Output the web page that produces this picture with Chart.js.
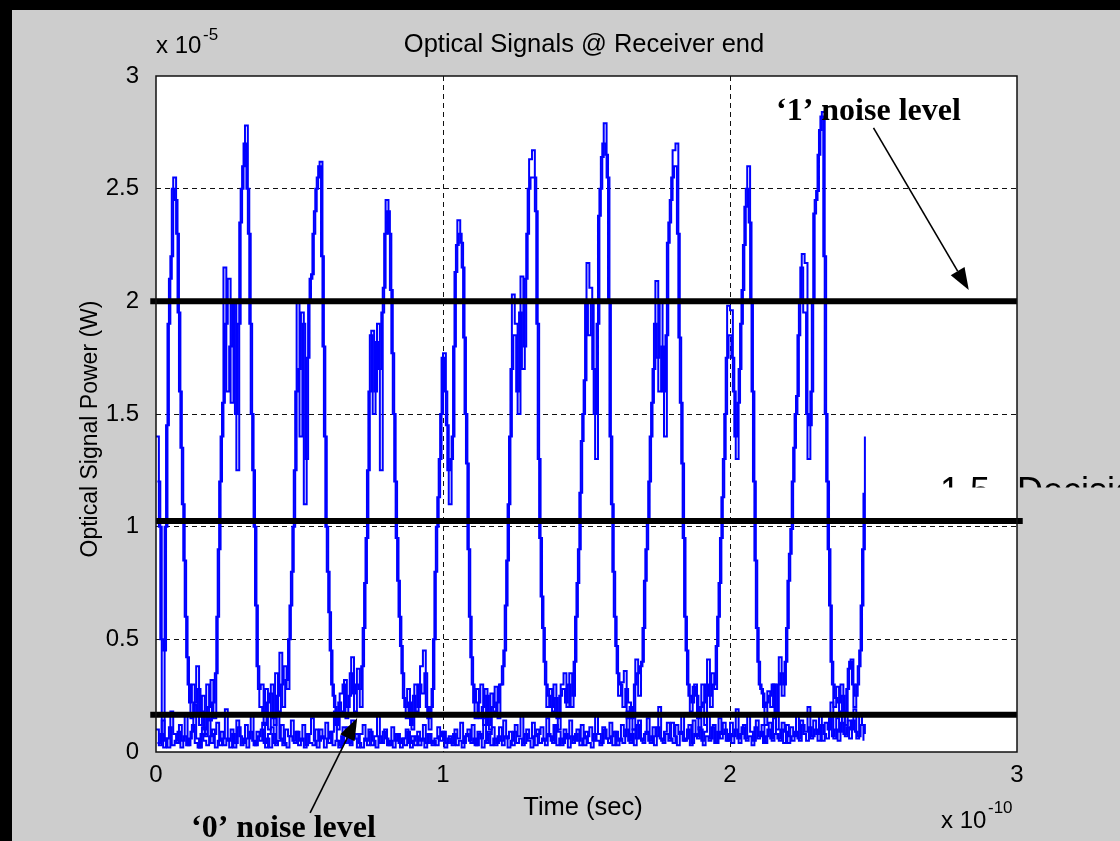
<!DOCTYPE html>
<html lang="en">
<head>
  <meta charset="UTF-8">
  <title>Optical Signals @ Receiver end</title>
  <style>
    body { margin: 0; background: #cdcdcd; }
    #wrap { width: 1120px; height: 841px; }
  </style>
</head>
<body>
  <div id="wrap"><canvas id="signalChart"></canvas></div>

  <script src="https://cdn.jsdelivr.net/npm/chart.js"></script>
  <script>
    // time axis in units of 1e-10 s, power in units of 1e-5 W
    const sampleStep = 0.01;
    const xTicks = [0, 1, 2, 3];
    const yTicks = [0, 0.5, 1, 1.5, 2, 2.5, 3];

    // received pulse train, first sweep
    const pulseTrace = [
      1.4, 1.0, 0.05, 1.0, 1.9, 2.2, 2.55, 2.3, 1.6, 1.1,
      0.6, 0.3, 0.15, 0.22, 0.38, 0.12, 0.25, 0.08, 0.2, 0.32,
      0.15, 0.6, 1.2, 1.55, 1.9, 2.1, 1.55, 2.0, 1.25, 2.35,
      2.6, 2.78, 2.3, 1.5, 1.0, 0.38, 0.2, 0.18, 0.28, 0.1,
      0.3, 0.12, 0.25, 0.44, 0.2, 0.32, 0.5, 0.8, 1.25, 2.0,
      1.4, 1.9, 1.3, 2.0, 2.12, 2.4, 2.55, 2.62, 1.8, 1.0,
      0.62, 0.3, 0.2, 0.1, 0.26, 0.3, 0.15, 0.25, 0.42, 0.18,
      0.37, 0.2, 0.55, 0.95, 1.6, 1.87, 1.6, 1.9, 1.25, 2.06,
      2.45, 2.3, 1.77, 1.2, 0.76, 0.47, 0.24, 0.15, 0.22, 0.1,
      0.3, 0.2, 0.38, 0.45, 0.2, 0.1, 0.28, 0.8, 1.13, 1.5,
      1.77, 1.45, 1.1, 1.4, 2.13, 2.36, 2.26, 1.84, 1.28, 0.6,
      0.3, 0.15, 0.22, 0.3, 0.12, 0.25, 0.1, 0.2, 0.29, 0.15,
      0.3, 0.45, 0.85, 1.4, 2.03, 1.9, 1.5, 2.11, 1.8, 2.3,
      2.63, 2.67, 2.4, 1.3, 0.69, 0.4, 0.2, 0.28, 0.18, 0.24,
      0.1, 0.3, 0.35, 0.2, 0.35, 0.25, 0.6, 0.9, 1.38, 1.65,
      2.17, 2.06, 1.7, 1.3, 2.38, 2.64, 2.79, 2.55, 1.4, 0.8,
      0.47, 0.25, 0.31, 0.36, 0.15, 0.2, 0.1, 0.41, 0.25, 0.4,
      0.76, 1.02, 1.4, 1.7, 2.09, 1.6, 1.8, 1.4, 2.26, 2.45,
      2.67, 2.7, 1.84, 1.28, 0.6, 0.3, 0.18, 0.29, 0.25, 0.1,
      0.3, 0.12, 0.41, 0.2, 0.3, 0.47, 0.75, 1.13, 1.5, 1.98,
      1.96, 1.6, 1.3, 1.7, 2.05, 2.42, 2.6, 2.0, 1.2, 0.55,
      0.3, 0.26, 0.12, 0.27, 0.2, 0.3, 0.1, 0.42, 0.25, 0.4,
      0.76, 0.99, 1.35, 1.58, 2.0, 2.21, 2.17, 1.3, 1.6, 2.39,
      2.49, 2.76, 2.84, 1.5, 0.9, 0.4, 0.2, 0.29, 0.18, 0.25,
      0.12, 0.37, 0.41, 0.2, 0.3, 0.45, 0.9, 1.4
    ];

    // second sweep, sampled half a step later
    const pulseTrace2 = [
      1.2, 0.5, 0.45, 1.45, 2.1, 2.5, 2.45, 1.95, 1.35, 0.85,
      0.42, 0.22, 0.3, 0.16, 0.28, 0.18, 0.1, 0.3, 0.14, 0.22,
      0.35, 0.9, 1.4, 2.15, 1.6, 1.8, 2.0, 1.5, 1.9, 2.5,
      2.7, 2.5, 1.9, 1.25, 0.65, 0.28, 0.3, 0.12, 0.22, 0.26,
      0.15, 0.35, 0.18, 0.3, 0.38, 0.28, 0.65, 1.0, 1.6, 1.7,
      1.95, 1.1, 1.75, 2.1, 2.3, 2.5, 2.6, 2.2, 1.4, 0.8,
      0.45, 0.25, 0.12, 0.22, 0.18, 0.32, 0.2, 0.35, 0.26, 0.3,
      0.28, 0.38, 0.75, 1.25, 1.85, 1.5, 1.82, 1.7, 1.95, 2.3,
      2.4, 2.05, 1.5, 0.95, 0.6, 0.35, 0.2, 0.28, 0.12, 0.25,
      0.18, 0.3, 0.26, 0.35, 0.15, 0.2, 0.5, 1.0, 1.3, 1.75,
      1.6, 1.25, 1.3, 1.8, 2.25, 2.3, 2.15, 1.5, 0.9, 0.42,
      0.22, 0.28, 0.15, 0.2, 0.28, 0.12, 0.26, 0.18, 0.22, 0.3,
      0.38, 0.65, 1.1, 1.7, 1.85, 1.6, 1.95, 1.7, 2.1, 2.5,
      2.55, 2.55, 1.9, 0.95, 0.55, 0.3, 0.25, 0.2, 0.3, 0.15,
      0.25, 0.28, 0.22, 0.3, 0.2, 0.4, 0.75, 1.15, 1.5, 2.0,
      1.85, 2.0, 1.5, 1.9, 2.5, 2.7, 2.65, 2.0, 1.1, 0.6,
      0.35, 0.3, 0.2, 0.28, 0.22, 0.15, 0.3, 0.35, 0.38, 0.55,
      0.9, 1.2, 1.55, 1.9, 1.75, 2.0, 1.6, 1.85, 2.35, 2.55,
      2.6, 2.3, 1.55, 0.95, 0.45, 0.25, 0.22, 0.3, 0.15, 0.2,
      0.22, 0.3, 0.25, 0.35, 0.28, 0.6, 0.95, 1.3, 1.75, 1.85,
      1.75, 1.4, 1.55, 1.9, 2.25, 2.5, 2.35, 1.6, 0.85, 0.4,
      0.28, 0.2, 0.22, 0.25, 0.3, 0.18, 0.3, 0.35, 0.3, 0.55,
      0.88, 1.2, 1.5, 1.85, 2.15, 1.95, 1.5, 1.45, 2.0, 2.45,
      2.65, 2.82, 2.2, 1.2, 0.65, 0.3, 0.24, 0.22, 0.3, 0.18,
      0.28, 0.4, 0.3, 0.25, 0.38, 0.65, 1.15
    ];

    // noise floor, two sweeps
    const floorTrace = [
      0.10, 0.03, 0.14, 0.06, 0.02, 0.18, 0.08, 0.04, 0.12, 0.05,
      0.16, 0.03, 0.09, 0.21, 0.06, 0.02, 0.11, 0.07, 0.15, 0.04,
      0.08, 0.13, 0.03, 0.06, 0.19, 0.05, 0.10, 0.02, 0.14, 0.07,
      0.04, 0.12, 0.06, 0.17, 0.03, 0.09, 0.05, 0.13, 0.02, 0.08,
      0.11, 0.04, 0.16, 0.06, 0.03, 0.10, 0.07, 0.14, 0.04, 0.09,
      0.05, 0.12, 0.03, 0.08, 0.15, 0.05, 0.02, 0.10, 0.06, 0.13,
      0.04, 0.09, 0.18, 0.05, 0.03, 0.11, 0.07, 0.04, 0.14, 0.06,
      0.02, 0.08, 0.12, 0.05, 0.10, 0.03, 0.07, 0.16, 0.04, 0.09,
      0.06, 0.03, 0.11, 0.05, 0.08, 0.02, 0.06, 0.10, 0.04, 0.07,
      0.03, 0.09, 0.05, 0.12, 0.04, 0.08, 0.03, 0.06, 0.11, 0.05,
      0.09, 0.04, 0.07, 0.03, 0.10, 0.06, 0.13, 0.04, 0.08, 0.05,
      0.12, 0.03, 0.09, 0.06, 0.15, 0.04, 0.08, 0.11, 0.03, 0.07,
      0.05, 0.14, 0.06, 0.09, 0.03, 0.12, 0.07, 0.17, 0.04, 0.10,
      0.06, 0.13, 0.03, 0.08, 0.11, 0.05, 0.15, 0.07, 0.04, 0.12,
      0.09, 0.03, 0.10, 0.06, 0.14, 0.04, 0.08, 0.05, 0.12, 0.03,
      0.07, 0.11, 0.05, 0.16, 0.08, 0.04, 0.10, 0.06, 0.13, 0.03,
      0.09, 0.05, 0.12, 0.07, 0.18, 0.04, 0.10, 0.06, 0.14, 0.05,
      0.08, 0.15, 0.04, 0.11, 0.07, 0.20, 0.05, 0.09, 0.13, 0.06,
      0.04, 0.12, 0.08, 0.16, 0.05, 0.10, 0.03, 0.14, 0.07, 0.11,
      0.05, 0.09, 0.17, 0.06, 0.12, 0.04, 0.15, 0.08, 0.10, 0.05,
      0.13, 0.07, 0.19, 0.04, 0.11, 0.06, 0.16, 0.09, 0.05, 0.14,
      0.07, 0.12, 0.04, 0.10, 0.06, 0.15, 0.08, 0.05, 0.13, 0.09,
      0.04, 0.11, 0.07, 0.16, 0.05, 0.12, 0.09, 0.20, 0.06, 0.14,
      0.08, 0.17, 0.05, 0.13, 0.10, 0.22, 0.06, 0.15, 0.09, 0.18,
      0.07, 0.14, 0.10, 0.19, 0.06, 0.16, 0.12, 0.08
    ];

    const floorTrace2 = [
      0.04, 0.08, 0.02, 0.06, 0.11, 0.03, 0.05, 0.09, 0.02, 0.07,
      0.03, 0.06, 0.12, 0.04, 0.02, 0.08, 0.05, 0.03, 0.07, 0.10,
      0.02, 0.05, 0.09, 0.03, 0.06, 0.02, 0.08, 0.04, 0.11, 0.03,
      0.06, 0.02, 0.09, 0.05, 0.03, 0.07, 0.10, 0.04, 0.06, 0.02,
      0.08, 0.03, 0.05, 0.12, 0.04, 0.02, 0.07, 0.05, 0.09, 0.03,
      0.06, 0.02, 0.08, 0.04, 0.03, 0.10, 0.05, 0.07, 0.02, 0.06,
      0.09, 0.03, 0.05, 0.02, 0.07, 0.04, 0.11, 0.03, 0.06, 0.08,
      0.04, 0.02, 0.06, 0.03, 0.09, 0.05, 0.02, 0.07, 0.04, 0.10,
      0.03, 0.05, 0.02, 0.08, 0.04, 0.06, 0.03, 0.09, 0.02, 0.05,
      0.07, 0.03, 0.06, 0.02, 0.08, 0.04, 0.05, 0.03, 0.07, 0.09,
      0.02, 0.06, 0.04, 0.08, 0.03, 0.05, 0.02, 0.07, 0.10, 0.04,
      0.06, 0.03, 0.08, 0.02, 0.05, 0.09, 0.03, 0.06, 0.04, 0.11,
      0.03, 0.07, 0.02, 0.05, 0.09, 0.04, 0.06, 0.03, 0.08, 0.05,
      0.02, 0.07, 0.10, 0.04, 0.06, 0.03, 0.08, 0.05, 0.12, 0.03,
      0.06, 0.04, 0.08, 0.02, 0.07, 0.05, 0.10, 0.03, 0.06, 0.09,
      0.04, 0.02, 0.08, 0.05, 0.03, 0.11, 0.06, 0.04, 0.07, 0.09,
      0.03, 0.06, 0.04, 0.10, 0.05, 0.08, 0.03, 0.12, 0.06, 0.04,
      0.09, 0.05, 0.07, 0.03, 0.11, 0.06, 0.04, 0.08, 0.05, 0.13,
      0.07, 0.03, 0.09, 0.05, 0.06, 0.12, 0.04, 0.08, 0.06, 0.10,
      0.03, 0.07, 0.05, 0.11, 0.04, 0.09, 0.06, 0.13, 0.05, 0.08,
      0.04, 0.10, 0.06, 0.08, 0.12, 0.05, 0.07, 0.03, 0.11, 0.06,
      0.09, 0.04, 0.07, 0.13, 0.05, 0.08, 0.06, 0.10, 0.04, 0.12,
      0.07, 0.05, 0.09, 0.06, 0.14, 0.08, 0.05, 0.11, 0.07, 0.10,
      0.05, 0.12, 0.08, 0.06, 0.15, 0.07, 0.10, 0.05, 0.13, 0.08,
      0.11, 0.06, 0.14, 0.09, 0.07, 0.12, 0.05
    ];

    // hand-drawn level lines: '1' level, decision level, '0' level
    const levelValues = [2.0, 1.025, 0.165];
    const levelStarts = [-0.02, 0.0, -0.02];
    const levelEnds = [3.0, 3.02, 3.0];

    // annotation arrows [fromX, fromY, tipX, tipY] in axis units
    const arrowOne = [2.50, 2.77, 2.832, 2.05];
    const arrowZero = [0.537, -0.27, 0.701, 0.151];

    const toPoints = (vals, shift) => vals.map((v, i) => ({ x: (i + shift) * sampleStep, y: v }));

    const traceStyle = {
      borderColor: '#0000ff',
      borderWidth: 2,
      stepped: true,
      pointRadius: 0
    };

    const levelSets = levelValues.map((lvl, i) => ({
      data: [{ x: levelStarts[i], y: lvl }, { x: levelEnds[i], y: lvl }],
      borderColor: '#000',
      borderWidth: 6,
      borderCapStyle: 'butt',
      pointRadius: 0,
      clip: false,
      order: 0
    }));

    function drawArrow(ctx, chart, a) {
      const xs = chart.scales.x, ys = chart.scales.y;
      const x0 = xs.getPixelForValue(a[0]), y0 = ys.getPixelForValue(a[1]);
      const x1 = xs.getPixelForValue(a[2]), y1 = ys.getPixelForValue(a[3]);
      const ang = Math.atan2(y1 - y0, x1 - x0), len = 22, half = 8;
      const bx = x1 - len * Math.cos(ang), by = y1 - len * Math.sin(ang);
      ctx.beginPath();
      ctx.moveTo(x0, y0);
      ctx.lineTo(bx, by);
      ctx.lineWidth = 1.6;
      ctx.stroke();
      ctx.beginPath();
      ctx.moveTo(x1, y1);
      ctx.lineTo(bx + half * Math.sin(ang), by - half * Math.cos(ang));
      ctx.lineTo(bx - half * Math.sin(ang), by + half * Math.cos(ang));
      ctx.closePath();
      ctx.fill();
    }

    const decorations = {
      id: 'decorations',
      beforeDraw(chart) {
        const { ctx, chartArea: a } = chart;
        ctx.save();
        ctx.fillStyle = '#cdcdcd';
        ctx.fillRect(0, 0, chart.width, chart.height);
        ctx.fillStyle = '#000';
        ctx.fillRect(0, 0, chart.width, 10);
        ctx.fillRect(0, 0, 12, chart.height);
        ctx.fillStyle = '#fff';
        ctx.fillRect(a.left, a.top, a.right - a.left, a.bottom - a.top);
        ctx.restore();
      },
      afterDraw(chart) {
        const { ctx, chartArea: a } = chart;
        ctx.save();
        // axes box
        ctx.strokeStyle = '#111';
        ctx.lineWidth = 1.5;
        ctx.strokeRect(a.left, a.top, a.right - a.left, a.bottom - a.top);

        ctx.fillStyle = '#000';
        ctx.textBaseline = 'alphabetic';
        ctx.font = '25.5px "Liberation Sans", Arial, sans-serif';
        ctx.textAlign = 'center';
        ctx.fillText('Optical Signals @ Receiver end', 584, 52);
        ctx.fillText('Time (sec)', 583, 815);

        // exponent labels
        ctx.textAlign = 'left';
        ctx.font = '24px "Liberation Sans", Arial, sans-serif';
        ctx.fillText('x 10', 156, 53);
        ctx.fillText('x 10', 941, 828);
        ctx.font = '17px "Liberation Sans", Arial, sans-serif';
        ctx.fillText('-5', 203, 40);
        ctx.fillText('-10', 988, 813);

        // y axis title
        ctx.save();
        ctx.translate(97, 429);
        ctx.rotate(-Math.PI / 2);
        ctx.textAlign = 'center';
        ctx.font = '23px "Liberation Sans", Arial, sans-serif';
        ctx.fillText('Optical Signal Power (W)', 0, 0);
        ctx.restore();

        // partly hidden label
        ctx.save();
        ctx.beginPath();
        ctx.rect(900, 470, 220, 17.5);
        ctx.clip();
        ctx.font = '36px "Liberation Sans", Arial, sans-serif';
        ctx.textAlign = 'left';
        ctx.fillText('1.5', 940, 503);
        ctx.fillText('Decision level', 1017, 503);
        ctx.restore();

        // annotations
        ctx.font = 'bold 32px "Liberation Serif", "Times New Roman", serif';
        ctx.textAlign = 'left';
        ctx.fillText('\u20181\u2019 noise level', 776, 120);
        ctx.fillText('\u20180\u2019 noise level', 191, 837);
        ctx.strokeStyle = '#000';
        ctx.fillStyle = '#000';
        drawArrow(ctx, chart, arrowOne);
        drawArrow(ctx, chart, arrowZero);
        ctx.restore();
      }
    };

    const tickFont = { family: '"Liberation Sans", Arial, sans-serif', size: 24 };
    const gridColor = ctx => (ctx.tick && (ctx.tick.value === 0 || ctx.tick.value === 3)) ? 'rgba(0,0,0,0)' : '#111';

    new Chart(document.getElementById('signalChart'), {
      type: 'line',
      data: {
        datasets: [
          ...levelSets,
          { ...traceStyle, data: toPoints(pulseTrace, 0), order: 1 },
          { ...traceStyle, data: toPoints(pulseTrace2, 0.5), order: 2 },
          { ...traceStyle, data: toPoints(floorTrace, 0), order: 3 },
          { ...traceStyle, data: toPoints(floorTrace2, 0.5), order: 4 }
        ]
      },
      options: {
        responsive: true,
        maintainAspectRatio: false,
        animation: false,
        layout: { padding: { top: 76, right: 103, bottom: 0, left: 0 } },
        plugins: { legend: { display: false }, tooltip: { enabled: false } },
        scales: {
          x: {
            type: 'linear',
            min: 0,
            max: 3,
            afterFit: s => { s.height = 89; },
            afterBuildTicks: s => { s.ticks = xTicks.map(v => ({ value: v })); },
            ticks: { font: tickFont, color: '#000', padding: 9, maxRotation: 0, callback: v => String(v) },
            grid: { color: gridColor, lineWidth: 1, drawTicks: false },
            border: { display: false, dash: [5, 4] }
          },
          y: {
            type: 'linear',
            min: 0,
            max: 3,
            afterFit: s => { s.width = 156; },
            afterBuildTicks: s => { s.ticks = yTicks.map(v => ({ value: v })); },
            ticks: { font: tickFont, color: '#000', padding: 17, callback: v => String(v) },
            grid: { color: gridColor, lineWidth: 1, drawTicks: false },
            border: { display: false, dash: [5, 4] }
          }
        }
      },
      plugins: [decorations]
    });
  </script>
</body>
</html>
